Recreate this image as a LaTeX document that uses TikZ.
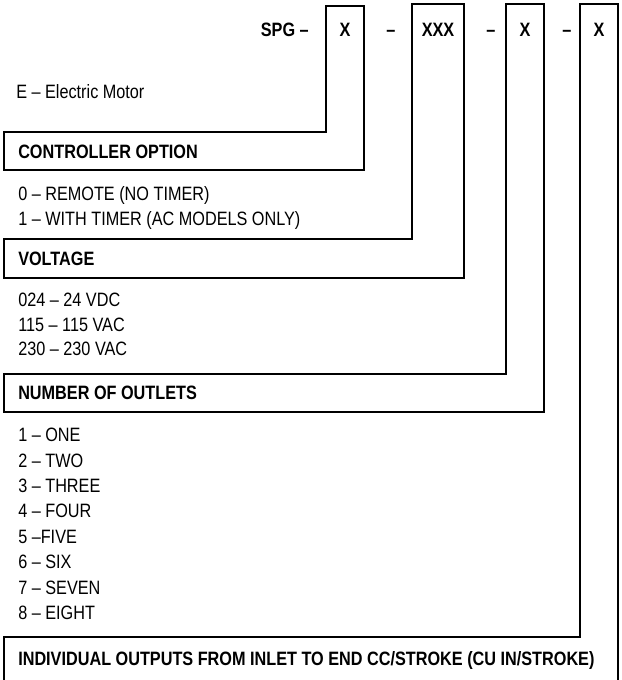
\documentclass[tikz,border=0pt]{standalone}
\usepackage{fontspec}
\setmainfont{Liberation Sans}[FakeStretch=0.84]
\usetikzlibrary{positioning}

\begin{document}
\begin{tikzpicture}[x=0.75pt, y=-0.75pt,
    font=\fontsize{14.5}{17}\selectfont,
    code/.style={font=\fontsize{14.5}{17}\selectfont\bfseries, inner sep=0pt, anchor=base},
    hdr/.style={font=\fontsize{14.5}{17}\selectfont\bfseries, anchor=west, inner sep=0pt},
    item/.style={anchor=west, inner sep=0pt},
    frame/.style={line width=1.25pt, line join=miter}]
    \useasboundingbox (0,0) rectangle (621,680);

    % Model code
    \node[code, anchor=base east] (spg) at (309,37) {SPG --};
    \node[code] (codeA) at (345,37) {X};
    \node[code] (dashA) at (391,37) {--};
    \node[code] (codeB) at (438,37) {XXX};
    \node[code] (dashB) at (491,37) {--};
    \node[code] (codeC) at (525,37) {X};
    \node[code] (dashC) at (567,37) {--};
    \node[code] (codeD) at (599,37) {X};

    % Brackets
    \draw[frame] (4,170) -- (4,132) -- (326,132) -- (326,6) -- (364,6) -- (364,170) -- cycle;
    \draw[frame] (4,278) -- (4,239) -- (412,239) -- (412,4) -- (464,4) -- (464,278) -- cycle;
    \draw[frame] (4,412) -- (4,374) -- (506,374) -- (506,4) -- (544,4) -- (544,412) -- cycle;
    \draw[frame] (4,682) -- (4,637) -- (580,637) -- (580,4) -- (618,4) -- (618,682);

    % Motor
    \node[item] (motor) at (16,92) {E -- Electric Motor};

    % Controller option
    \node[hdr] (ctrl) at (18,152) {CONTROLLER OPTION};
    \node[item] (ctrlA) at (18,195) {0 -- REMOTE (NO TIMER)};
    \node[item] (ctrlB) at (18,220) {1 -- WITH TIMER (AC MODELS ONLY)};

    % Voltage
    \node[hdr] (volt) at (18,259) {VOLTAGE};
    \node[item] (voltA) at (18,300) {024 -- 24 VDC};
    \node[item] (voltB) at (18,325) {115 -- 115 VAC};
    \node[item] (voltC) at (18,349) {230 -- 230 VAC};

    % Outlets
    \node[hdr] (outl) at (18,393) {NUMBER OF OUTLETS};
    \foreach \t [count=\i from 0] in {1 -- ONE, 2 -- TWO, 3 -- THREE, 4 -- FOUR,
        5 --FIVE, 6 -- SIX, 7 -- SEVEN, 8 -- EIGHT}
        \node[item] (outl\i) at (18,{435+25.4*\i}) {\t};

    % Outputs
    \node[hdr] (outp) at (18,660) {INDIVIDUAL OUTPUTS FROM INLET TO END CC/STROKE (CU IN/STROKE)};
\end{tikzpicture}
\end{document}
